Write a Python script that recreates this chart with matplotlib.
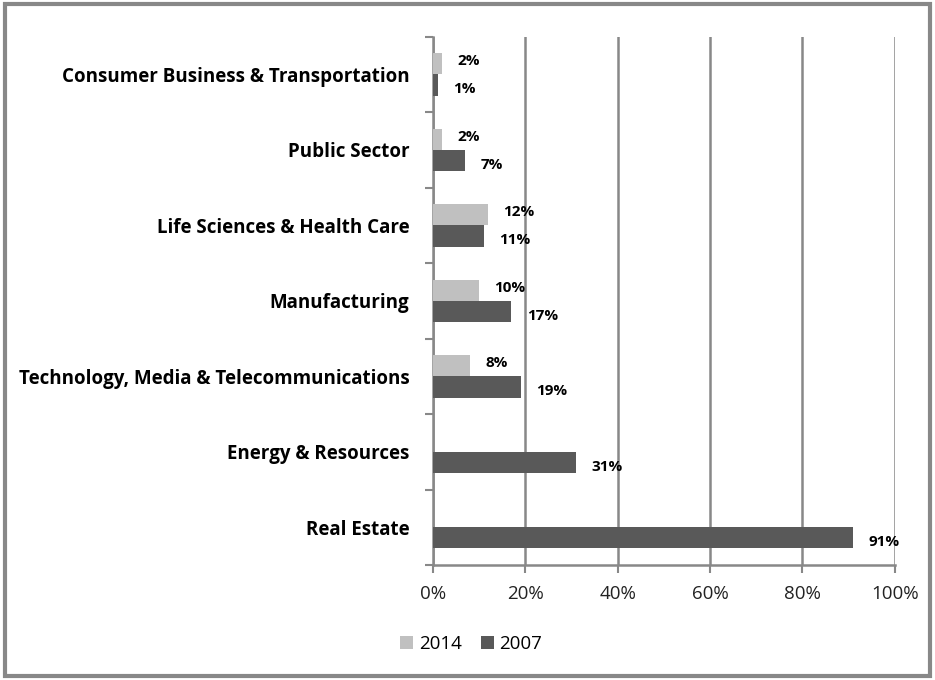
import numpy as np
import matplotlib.pyplot as plt
from matplotlib.patches import Rectangle

categories = ['Consumer Business & Transportation', 'Public Sector',
              'Life Sciences & Health Care', 'Manufacturing',
              'Technology, Media & Telecommunications', 'Energy & Resources',
              'Real Estate']
vals_2014 = [2, 2, 12, 10, 8, None, None]
vals_2007 = [1, 7, 11, 17, 19, 31, 91]
ticks = [0, 20, 40, 60, 80, 100]

plt.rcParams['font.family'] = ['Open Sans', 'DejaVu Sans']

fig = plt.figure(figsize=(9.35, 6.8), dpi=100)
ax = fig.add_axes([0.463, 0.169, 0.494, 0.777])

n = len(categories)
y = np.arange(n)[::-1]
h = 0.28
c14, c07 = '#c0c0c0', '#595959'

v14 = [v if v is not None else 0 for v in vals_2014]
b14 = ax.barh(y + h / 2, v14, height=h, color=c14, label='2014', zorder=3)
b07 = ax.barh(y - h / 2, vals_2007, height=h, color=c07, label='2007', zorder=3)

# data labels
for yi, v in zip(y, vals_2014):
    if v is not None:
        ax.annotate(f'{v}%', (v, yi + h / 2), xytext=(11, 2), textcoords='offset points',
                    va='center', ha='left', fontsize=11, fontweight='bold')
for yi, v in zip(y, vals_2007):
    ax.annotate(f'{v}%', (v, yi - h / 2), xytext=(11, -3), textcoords='offset points',
                va='center', ha='left', fontsize=11, fontweight='bold')

ax.set_xlim(0, 100)
ax.set_ylim(-0.5, n - 0.5)
ax.set_xticks(ticks)
ax.set_xticklabels([f'{t}%' for t in ticks], fontsize=13.5, color='#222222')
ax.set_yticks(y)
ax.set_yticklabels(categories, fontsize=13.5, fontweight='bold')
ax.tick_params(axis='y', length=0, pad=17)
ax.set_yticks(np.arange(n + 1) - 0.5, minor=True)
ax.tick_params(axis='y', which='minor', length=6, width=1.5, color='#888888')
ax.tick_params(axis='x', length=6, width=1.5, color='#888888', pad=8)

ax.grid(axis='x', color='#888888', linewidth=1.8, zorder=0)
for s in ['top', 'right']:
    ax.spines[s].set_visible(False)
for s in ['left', 'bottom']:
    ax.spines[s].set_color('#888888')
    ax.spines[s].set_linewidth(1.8)

leg = fig.legend(handles=[b14, b07], loc='lower left', bbox_to_anchor=(0.41, 0.015),
                 ncol=2, frameon=False, fontsize=13.5, handlelength=0.7,
                 handleheight=0.7, handletextpad=0.3, columnspacing=1.0)

fig.patches.append(Rectangle((0.005, 0.006), 0.99, 0.988, transform=fig.transFigure,
                             fill=False, edgecolor='#888888', linewidth=3))

fig.savefig('out.png', dpi=100, facecolor='white')
